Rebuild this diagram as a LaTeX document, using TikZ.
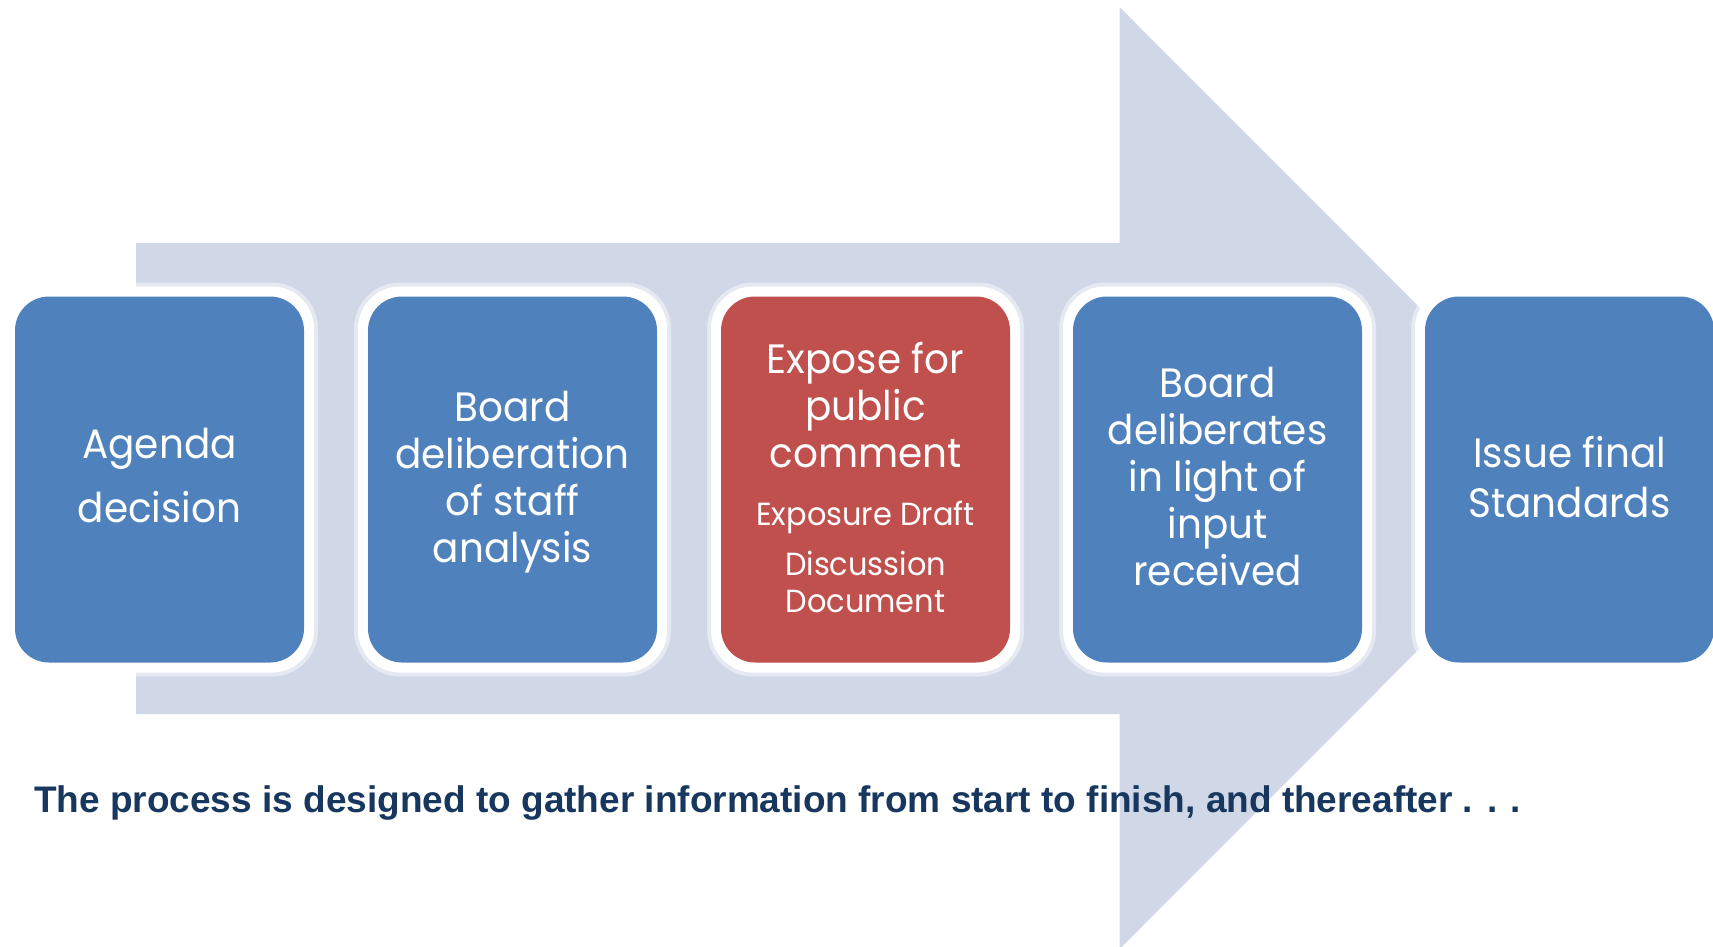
\documentclass[tikz,border=0pt]{standalone}
\usepackage{fontspec}
\setmainfont{Poppins}[FakeStretch=0.95]
\newfontfamily\capfont{Liberation Sans}
\definecolor{boxblue}{HTML}{4F81BD}
\definecolor{boxred}{HTML}{C0504D}
\definecolor{arrowfill}{HTML}{D0D8E8}
\definecolor{navy}{HTML}{17375E}
\tikzset{
  stepbox/.style={rounded corners=34pt, minimum width=289pt, minimum height=366pt, inner sep=0pt, fill=#1},
  glow/.style={rounded corners=42pt, minimum width=309pt, minimum height=386pt, inner sep=0pt, fill=white},
  softglow/.style={rounded corners=46pt, minimum width=317pt, minimum height=394pt, inner sep=0pt, fill=white, opacity=0.45},
  boxtext/.style={text=white, align=center, font=\fontsize{41}{47}\selectfont},
}
\begin{document}
\begin{tikzpicture}[x=1pt,y=-1pt]
\useasboundingbox (0,0) rectangle (1713,947);
% big arrow
\fill[arrowfill] (136,243) -- (1119.5,243) -- (1119.5,7) -- (1590,478) -- (1119.5,949) -- (1119.5,714) -- (136,714) -- cycle;
% white halos behind boxes
\foreach \cx in {159.5,512.5,865.5,1217.5,1569.5} {
  \node[softglow] at (\cx,479.5) {};
  \node[glow] at (\cx,479.5) {};
}
\node[stepbox=boxblue] (b1) at (159.5,479.5) {};
\node[stepbox=boxblue] (b2) at (512.5,479.5) {};
\node[stepbox=boxred]  (b3) at (865.5,479.5) {};
\node[stepbox=boxblue] (b4) at (1217.5,479.5) {};
\node[stepbox=boxblue] (b5) at (1569.5,479.5) {};
% texts
\node[boxtext, font=\fontsize{41}{64}\selectfont] (t1) at (159.5,476) {Agenda\\decision};
\node[boxtext] (t2) at (512.5,482) {Board\\deliberation\\of staff\\analysis};
\node[boxtext, anchor=base] (t3a) at (865.5,467) {Expose for\\public\\comment};
\node[boxtext, anchor=base, font=\fontsize{32}{37}\selectfont] (t3b) at (865.5,612) {Exposure Draft\\[13pt]Discussion\\Document};
\node[boxtext] (t4) at (1217.5,477) {Board\\deliberates\\in light of\\input\\received};
\node[boxtext, font=\fontsize{41}{50}\selectfont] (t5) at (1569.5,477) {Issue final\\Standards};
% caption
\node[anchor=base west, inner sep=0pt, text=navy, font=\capfont\bfseries\fontsize{37}{40}\selectfont] (cap) at (34,812) {The process is designed to gather information from start to finish, and thereafter . . .};
\end{tikzpicture}
\end{document}
